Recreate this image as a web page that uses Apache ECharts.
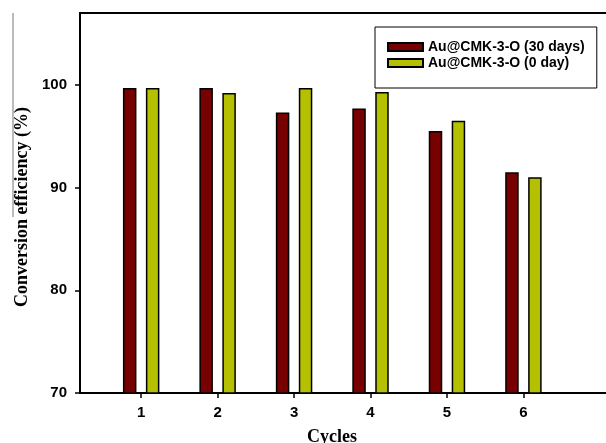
<!DOCTYPE html>
<html>
<head>
<meta charset="utf-8">
<script src="https://cdn.jsdelivr.net/npm/echarts@6/dist/echarts.min.js"></script>
<style>
  html, body { margin: 0; padding: 0; background: #fff; }
  #main { width: 606px; height: 443px; }
</style>
</head>
<body>
<div id="main"></div>
<script>
// data
var cycles = [1, 2, 3, 4, 5, 6];
var eff30days = [99.7, 99.7, 97.3, 97.7, 95.5, 91.5];
var eff0day = [99.7, 99.2, 99.7, 99.3, 96.5, 91.0];
var yTicks = [70, 80, 90, 100];

var myChart = echarts.init(document.getElementById('main'), null, { renderer: 'canvas' });

function pairs (xs, ys) {
  return xs.map(function (x, i) { return [x, ys[i]]; });
}

var axisFont = { color: '#000', fontFamily: 'Liberation Sans', fontWeight: 'bold', fontSize: 15 };

var option = {
  backgroundColor: '#fff',
  animation: false,
  grid: { left: 80, right: 0, top: 13, bottom: 50, containLabel: false },
  legend: {
    orient: 'vertical',
    left: 375,
    top: 27,
    padding: [13, 12, 18, 12],
    itemGap: 2,
    itemWidth: 35,
    itemHeight: 8,
    icon: 'rect',
    backgroundColor: '#fff',
    borderColor: '#000',
    borderWidth: 1,
    textStyle: { color: '#000', fontFamily: 'Liberation Sans', fontWeight: 'bold', fontSize: 14, lineHeight: 14 },
    data: ['Au@CMK-3-O (30 days)', 'Au@CMK-3-O (0 day)']
  },
  xAxis: [
    {
      type: 'value',
      min: 0.2,
      max: 7.08,
      splitLine: { show: false },
      axisLine: { lineStyle: { color: '#000', width: 2 } },
      axisTick: { show: true, length: 5, lineStyle: { color: '#000', width: 1.5 }, customValues: cycles },
      axisLabel: Object.assign({ margin: 12, customValues: cycles }, axisFont)
    },
    {
      type: 'value',
      position: 'top',
      min: 0.2,
      max: 7.08,
      splitLine: { show: false },
      axisLine: { show: true, lineStyle: { color: '#000', width: 2 } },
      axisTick: { show: false },
      axisLabel: { show: false }
    }
  ],
  yAxis: {
    type: 'value',
    min: 70,
    max: 107,
    interval: 10,
    splitLine: { show: false },
    axisLine: { show: true, lineStyle: { color: '#000', width: 2 } },
    axisTick: { show: true, length: 5, lineStyle: { color: '#000', width: 1.5 }, customValues: yTicks },
    axisLabel: Object.assign({ margin: 13, customValues: yTicks }, axisFont)
  },
  graphic: [
    {
      type: 'text',
      x: 22,
      y: 207,
      rotation: Math.PI / 2,
      style: {
        text: 'Conversion efficiency (%)', fill: '#000', font: 'bold 18px "Liberation Serif"',
        align: 'center', verticalAlign: 'middle'
      }
    },
    {
      type: 'text',
      x: 332,
      y: 437,
      style: {
        text: 'Cycles', fill: '#000', font: 'bold 18px "Liberation Serif"',
        align: 'center', verticalAlign: 'middle'
      }
    },
    {
      type: 'line',
      shape: { x1: 13, y1: 13, x2: 13, y2: 217 },
      style: { stroke: '#777', lineWidth: 1 }
    }
  ],
  series: [
    {
      name: 'Au@CMK-3-O (30 days)',
      type: 'bar',
      barWidth: 13.5,
      barGap: '70%',
      itemStyle: { color: '#770000', borderColor: '#000', borderWidth: 1.5 },
      data: pairs(cycles, eff30days)
    },
    {
      name: 'Au@CMK-3-O (0 day)',
      type: 'bar',
      barWidth: 13.5,
      barGap: '70%',
      itemStyle: { color: '#b5c000', borderColor: '#000', borderWidth: 1.5 },
      data: pairs(cycles, eff0day)
    }
  ]
};

myChart.setOption(option);
</script>
</body>
</html>
